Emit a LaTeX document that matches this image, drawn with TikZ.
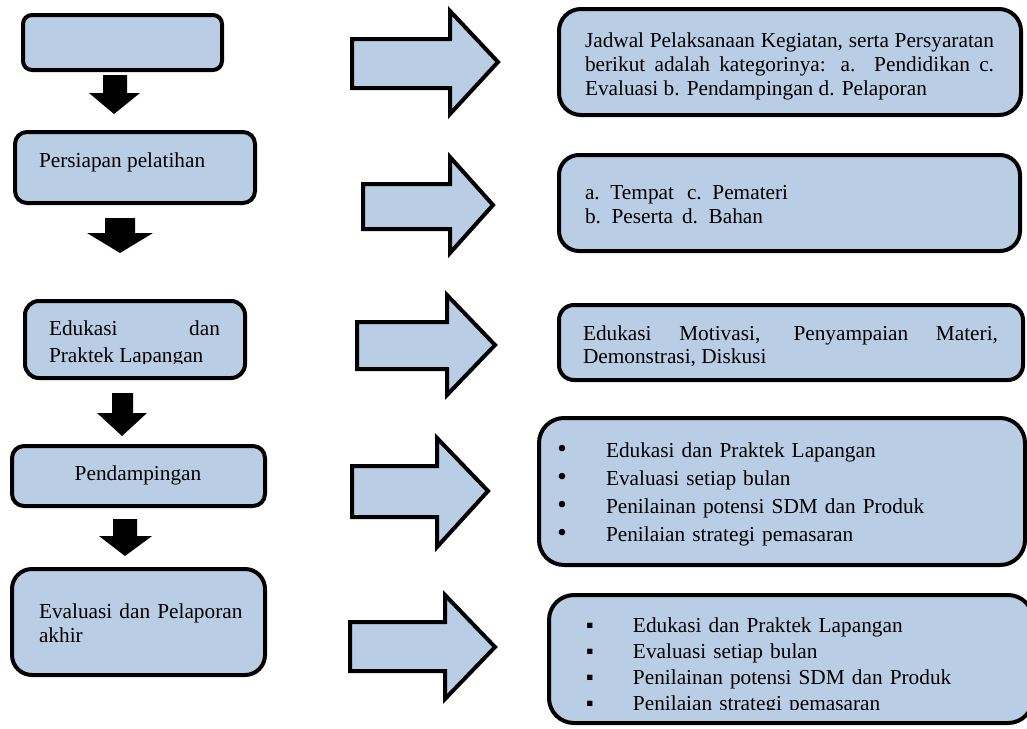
\documentclass[tikz,border=0pt]{standalone}
\usepackage{fontspec}
\setmainfont{Liberation Serif}
\definecolor{boxblue}{RGB}{185,205,229}
\newcommand{\rbul}{\makebox[48pt][l]{\hspace{-0.6pt}\fontsize{27}{28}\selectfont •}}
\newcommand{\sbul}{\makebox[47pt][l]{▪}}
\tikzset{
  box/.style={draw=black, fill=boxblue, line width=4pt, rectangle, inner sep=0pt},
  rarrow/.style={draw=black, fill=boxblue, line width=4pt, line join=miter},
  darrow/.style={fill=black, draw=none},
  txt/.style={inner sep=0pt, outer sep=0pt, font=\fontsize{21.3}{24}\selectfont},
}
\begin{document}
\begin{tikzpicture}[x=1pt,y=-1pt]
\useasboundingbox (0,0) rectangle (1027,728);
% left boxes
\node[box, rounded corners=9pt,  minimum width=199pt, minimum height=55pt]  (b1) at (122.5,42.5) {};
\node[box, rounded corners=12pt, minimum width=240pt, minimum height=71pt]  (b2) at (135,167.5) {};
\node[box, rounded corners=14pt, minimum width=220pt, minimum height=77pt]  (b3) at (135,339.5) {};
\node[box, rounded corners=12pt, minimum width=253pt, minimum height=60pt]  (b4) at (138.5,476) {};
\node[box, rounded corners=20pt, minimum width=253pt, minimum height=106pt] (b5) at (138.5,622) {};
% right boxes
\node[box, rounded corners=22pt, minimum width=462pt, minimum height=106pt] (r1) at (790,62) {};
\node[box, rounded corners=20pt, minimum width=461pt, minimum height=96pt]  (r2) at (789.5,203) {};
\node[box, rounded corners=15pt, minimum width=464pt, minimum height=75pt]  (r3) at (791,342.5) {};
\node[box, rounded corners=25pt, minimum width=486pt, minimum height=147pt] (r4) at (782,491.5) {};
\node[box, rounded corners=25pt, minimum width=484pt, minimum height=128pt] (r5) at (791,659) {};
% down arrows
\fill[darrow] (103,75) -- (127,75) -- (127,93) -- (140,93) -- (114,114) -- (89,93) -- (103,93) -- cycle;
\fill[darrow] (105,218) -- (135,218) -- (135,233) -- (153,233) -- (120,253) -- (87,233) -- (105,233) -- cycle;
\fill[darrow] (112,393) -- (133,393) -- (133,413) -- (147,413) -- (122,436) -- (97,413) -- (112,413) -- cycle;
\fill[darrow] (113,519) -- (137,519) -- (137,536) -- (152,536) -- (125,556) -- (99,536) -- (113,536) -- cycle;
% right block arrows
\draw[rarrow] (352,39) -- (450,39) -- (450,11) -- (498,62) -- (450,114) -- (450,88) -- (352,88) -- cycle;
\draw[rarrow] (363,184) -- (450,184) -- (450,157) -- (493,205) -- (450,253) -- (450,229) -- (363,229) -- cycle;
\draw[rarrow] (357,322) -- (447,322) -- (447,295) -- (495,345) -- (447,395) -- (447,369) -- (357,369) -- cycle;
\draw[rarrow] (352,466) -- (437,466) -- (437,438) -- (488,491) -- (437,547) -- (437,517) -- (352,517) -- cycle;
\draw[rarrow] (350,622) -- (445,622) -- (445,595) -- (495,647) -- (445,699) -- (445,671) -- (350,671) -- cycle;
% left texts
\node[txt, anchor=base west] (t2) at (39,167) {Persiapan pelatihan};
\begin{scope}
\clip (0,0) rectangle (1027,363.5);
\node[txt, anchor=base west, text width=171pt, align=justify, font=\fontsize{21.3}{27}\selectfont] (t3) at (49,335) {Edukasi dan\linebreak Praktek Lapangan};
\end{scope}
\node[txt, anchor=base] (t4) at (138,480) {Pendampingan};
\node[txt, anchor=base west, text width=220pt, align=left] (t5) at (39,618) {Evaluasi dan Pelaporan\\akhir};
% right texts
\node[txt, anchor=base west, text width=409pt, align=justify] (s1) at (585,47) {Jadwal Pelaksanaan Kegiatan, serta Persyaratan\linebreak berikut adalah kategorinya: a. Pendidikan c.\linebreak Evaluasi b. Pendampingan d. Pelaporan};
\node[txt, anchor=base west, text width=300pt, align=left] (s2) at (585,199) {\makebox[102pt][l]{a. Tempat}c. Pemateri\\\makebox[97pt][l]{b. Peserta}d. Bahan};
\begin{scope}
\clip (0,0) rectangle (1027,365);
\node[txt, anchor=base west, text width=415pt, align=justify, font=\fontsize{21.3}{23}\selectfont] (s3) at (583,340) {Edukasi Motivasi, Penyampaian Materi,\linebreak Demonstrasi, Diskusi};
\end{scope}
\node[txt, anchor=base west, text width=420pt, align=left, font=\fontsize{21.3}{28}\selectfont] (s4) at (558,457) {\rbul Edukasi dan Praktek Lapangan\\\rbul Evaluasi setiap bulan\\\rbul Penilainan potensi SDM dan Produk\\\rbul Penilaian strategi pemasaran};
\begin{scope}
\clip (0,0) rectangle (1027,709);
\node[txt, anchor=base west, text width=420pt, align=left, font=\fontsize{21.3}{26.3}\selectfont] (s5) at (586,632) {\sbul Edukasi dan Praktek Lapangan\\\sbul Evaluasi setiap bulan\\\sbul Penilainan potensi SDM dan Produk\\\sbul Penilaian strategi pemasaran};
\end{scope}
\end{tikzpicture}
\end{document}
